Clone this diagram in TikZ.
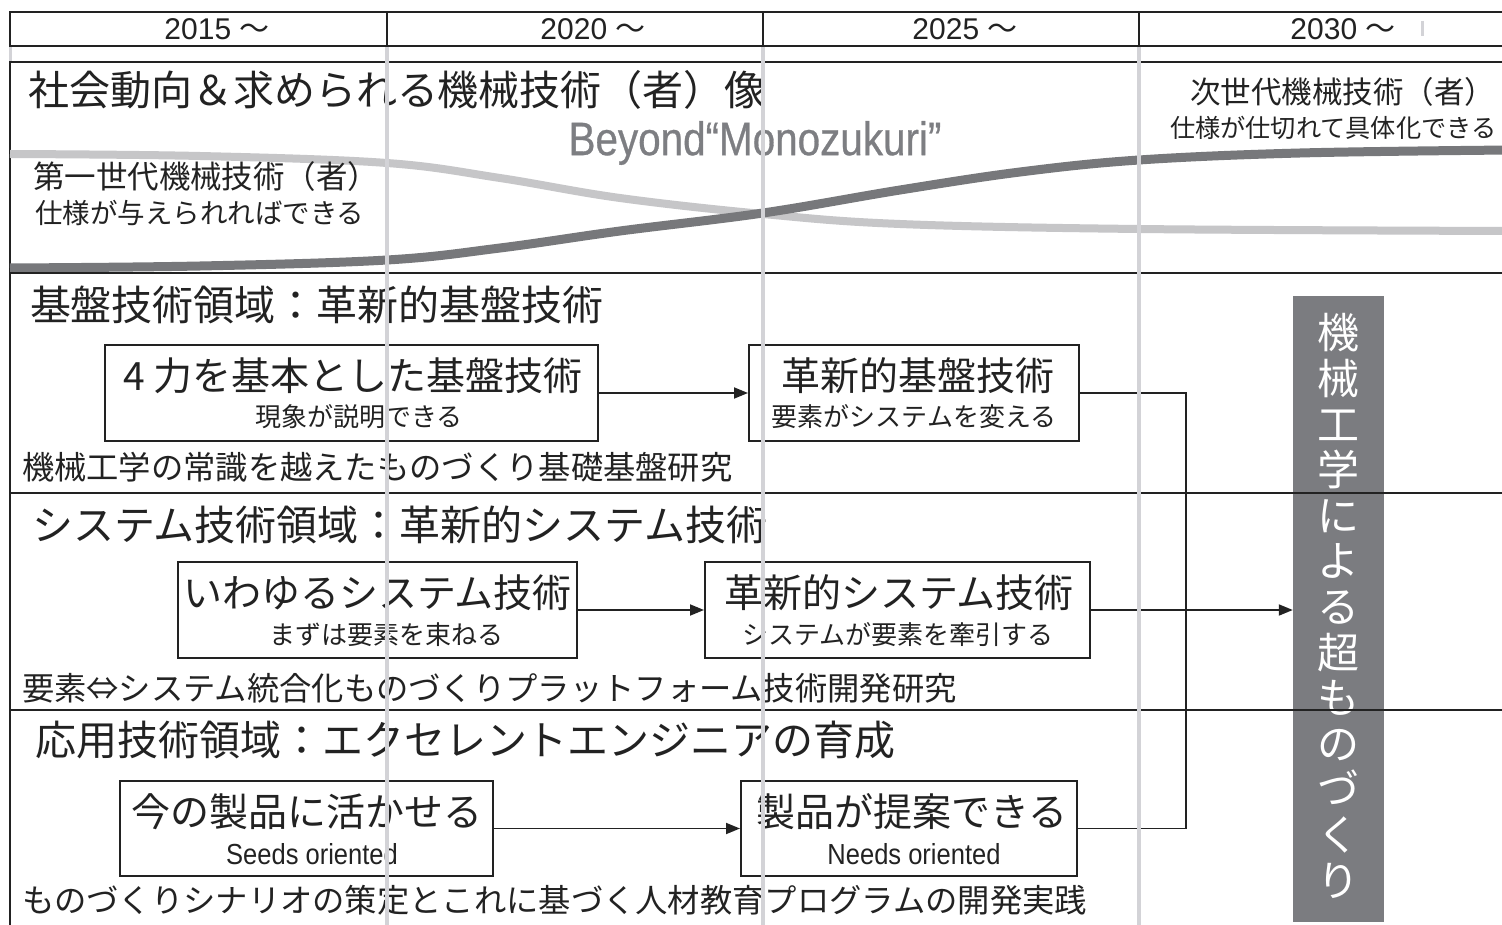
\documentclass[tikz,border=0pt]{standalone}
\usepackage{fontspec}
\setmainfont{Noto Sans CJK JP}
\newfontfamily\latinf{Liberation Sans}
\newfontfamily\condf[FakeStretch=0.88]{Liberation Sans}
\newfontfamily\beyondf[FakeStretch=0.86,FakeBold=0.6]{Liberation Sans}
\usetikzlibrary{arrows.meta}
\definecolor{ink}{HTML}{222222}
\definecolor{guide}{HTML}{D3D3D7}
\definecolor{lightcurve}{HTML}{C6C6C8}
\definecolor{darkcurve}{HTML}{77787B}
\definecolor{boxgray}{HTML}{7B7C80}
\definecolor{beyondgray}{HTML}{7D7E82}
\newcommand{\fsz}[1]{\fontsize{#1}{#1}\selectfont}
\tikzset{
  frameline/.style={draw=ink, line width=2pt},
  guideline/.style={draw=guide, line width=4pt},
  txt/.style={inner sep=0pt, outer sep=0pt, text=ink},
  stagebox/.style={draw=ink, line width=2pt, inner sep=0pt, fill=white},
  conn/.style={draw=ink, line width=1.8pt},
  arr/.style={conn, -{Triangle[length=14pt,width=11pt]}},
  big/.style={txt, font=\fsz{41}},
  boxtitle/.style={txt, font=\fsz{39}},
  boxsub/.style={txt, font=\fsz{26}},
  bottomtxt/.style={txt, font=\fsz{32.3}},
  yeartxt/.style={txt, font=\latinf\fsz{30}},
}
\begin{document}
\begin{tikzpicture}[x=1pt,y=-1pt]
\useasboundingbox (0,0) rectangle (1502,925);
\fill[white] (0,0) rectangle (1502,925);
\clip (0,0) rectangle (1502,925);

% header
\draw[frameline] (1510,12) -- (10,12) -- (10,46) -- (1510,46);
\foreach \xx in {387,763,1139} \draw[frameline] (\xx,12) -- (\xx,46);
\node[yeartxt] (y1) at (217,29) {2015 {\fontspec{Noto Sans CJK JP}～}};
\node[yeartxt] (y2) at (593,29) {2020 {\fontspec{Noto Sans CJK JP}～}};
\node[yeartxt] (y3) at (965,29) {2025 {\fontspec{Noto Sans CJK JP}～}};
\node[yeartxt] (y4) at (1343,29) {2030 {\fontspec{Noto Sans CJK JP}～}};
\draw[guide, line width=3pt] (1422,21) -- (1422,36);

% main frame
\draw[frameline] (1510,62) -- (10,62) -- (10,930);

% curves
\draw[lightcurve, line width=8pt] plot[smooth, tension=0.6] coordinates
  {(10,154) (200,156) (387,163) (500,178) (620,198) (763,214) (900,224) (1139,229) (1510,231)};
\draw[darkcurve, line width=9pt] plot[smooth, tension=0.6] coordinates
  {(10,268) (200,266) (387,260) (500,248) (620,231) (763,213) (900,190) (1020,172) (1139,160) (1300,153) (1510,150)};

% top section texts
\node[big, anchor=west] (t0) at (28,90) {社会動向＆求められる機械技術（者）像};
\node[txt, text=beyondgray, font=\beyondf\fsz{47}] (beyond) at (755,143) {Beyond“Monozukuri”};
\node[txt, anchor=west, font=\fsz{31.5}] (gen1) at (33,177) {第一世代機械技術（者）};
\node[txt, anchor=west, font=\fsz{27.5}] (gen1s) at (35,213) {仕様が与えられればできる};
\node[txt, anchor=west, font=\fsz{30.5}] (gen2) at (1190,92) {次世代機械技術（者）};
\node[txt, anchor=west, font=\fsz{25.2}] (gen2s) at (1170,128) {仕様が仕切れて具体化できる};

% gray box
\node[fill=boxgray, inner sep=0pt, minimum width=91pt, minimum height=626pt] (gbox) at (1338.5,609) {};
\node[inner sep=0pt, text=white, align=center, font=\fontsize{42}{45.6}\selectfont] (gtxt) at (1338.5,606)
  {機\\械\\工\\学\\に\\よ\\る\\超\\も\\の\\づ\\く\\り};

% section lines
\draw[frameline, line width=2.5pt] (10,273) -- (1510,273);
\draw[frameline] (10,493) -- (1510,493);
\draw[frameline] (10,710) -- (1510,710);

% section 2
\node[big, anchor=west] (s2) at (30,305) {基盤技術領域：革新的基盤技術};
\node[stagebox, minimum width=493pt, minimum height=96pt] (b1) at (351.5,393) {};
\node[boxtitle] (b1t) at (353,376) {4 力を基本とした基盤技術};
\node[boxsub] (b1s) at (359,417) {現象が説明できる};
\node[stagebox, minimum width=330pt, minimum height=96pt] (b2) at (914,393) {};
\node[boxtitle] (b2t) at (918,376) {革新的基盤技術};
\node[boxsub] (b2s) at (914,417) {要素がシステムを変える};
\node[bottomtxt, anchor=west] (s2b) at (22,467) {機械工学の常識を越えたものづくり基礎基盤研究};

% section 3
\node[big, anchor=west] (s3) at (32,525) {システム技術領域：革新的システム技術};
\node[stagebox, minimum width=399pt, minimum height=96pt] (b3) at (377.5,610) {};
\node[boxtitle] (b3t) at (377.5,593) {いわゆるシステム技術};
\node[boxsub] (b3s) at (386,635) {まずは要素を束ねる};
\node[stagebox, minimum width=385pt, minimum height=96pt] (b4) at (897.5,610) {};
\node[boxtitle] (b4t) at (899,593) {革新的システム技術};
\node[boxsub] (b4s) at (898,635) {システムが要素を牽引する};
\node[bottomtxt, anchor=west] (s3b) at (22,688) {要素⇔システム統合化ものづくりプラットフォーム技術開発研究};

% section 4
\node[big, anchor=west] (s4) at (35,740) {応用技術領域：エクセレントエンジニアの育成};
\node[stagebox, minimum width=373pt, minimum height=95pt] (b5) at (306.5,828.5) {};
\node[boxtitle] (b5t) at (307,812) {今の製品に活かせる};
\node[txt, font=\condf\fsz{29}] (b5s) at (312,854) {Seeds oriented};
\node[stagebox, minimum width=336pt, minimum height=95pt] (b6) at (909,828.5) {};
\node[boxtitle] (b6t) at (912,812) {製品が提案できる};
\node[txt, font=\condf\fsz{29}] (b6s) at (914,854) {Needs oriented};
\node[bottomtxt, anchor=west] (s4b) at (22,900) {ものづくりシナリオの策定とこれに基づく人材教育プログラムの開発実践};

% connectors
\coordinate (jtop) at (1186,393);
\coordinate (jbot) at (1186,828.5);
\draw[arr] (b1.east) -- (b2.west);
\draw[arr] (b3.east) -- (b4.west);
\draw[arr] (b5.east) -- (b6.west);
\draw[conn] (b2.east) -- (jtop) -- (jbot) -- (b6.east);
\draw[arr] (b4.east) -- (b4.east -| gbox.west);

% guide lines on top
\foreach \xx in {387,763,1139} \draw[guideline] (\xx,47) -- (\xx,930);
\draw[guideline, line width=3pt] (10,47) -- (10,61);
\end{tikzpicture}
\end{document}
